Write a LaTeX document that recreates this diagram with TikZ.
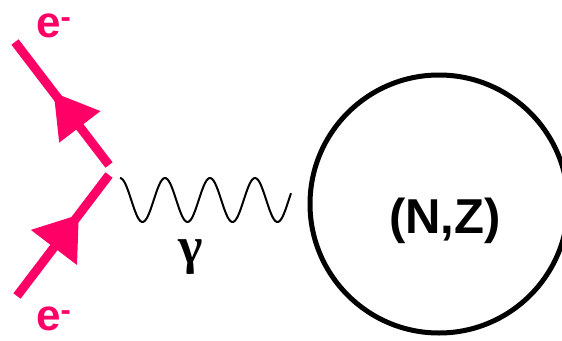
\documentclass[tikz,border=0pt]{standalone}
\usepackage{fontspec}
\setsansfont{Liberation Sans}
\newfontfamily\greekfont{Liberation Serif}
\usetikzlibrary{calc}
\definecolor{epink}{RGB}{255,0,102}

\begin{document}
\begin{tikzpicture}[x=1pt,y=-1pt,
  fermion/.style={epink,line width=9pt},
  elabel/.style={epink,font=\sffamily\bfseries\fontsize{44}{44}\selectfont,anchor=base west,inner sep=0pt}]
  \clip (0,0) rectangle (562,340);
  % Vertex end points
  \coordinate (vtop) at (109,165);
  \coordinate (vbot) at (109,175);
  \coordinate (eout) at (15,42);
  \coordinate (ein) at (17,296);
  % Electron lines
  \draw[fermion] (vtop) -- (eout);
  \draw[fermion] (ein) -- (vbot);
  % Arrow heads: tip, then middle of the base
  \coordinate (tipA) at ($(vtop)!91pt!(eout)$);
  \coordinate (baseA) at ($(tipA)!43pt!(vtop)$);
  \fill[epink] (tipA) -- ($(baseA)!26pt!90:(tipA)$) -- ($(baseA)!26pt!-90:(tipA)$) -- cycle;
  \coordinate (tipB) at ($(ein)!102pt!(vbot)$);
  \coordinate (baseB) at ($(tipB)!41pt!(ein)$);
  \fill[epink] (tipB) -- ($(baseB)!29pt!90:(tipB)$) -- ($(baseB)!29pt!-90:(tipB)$) -- cycle;
  % Electron labels
  \node[elabel] (etop) at (36,37) {e\textsuperscript{-}};
  \node[elabel] (ebot) at (36,330) {e\textsuperscript{-}};
  % Photon
  \draw[line width=2pt] plot[domain=0:171,samples=120,smooth] (\x+120,{200-22*cos(\x/45*360)});
  \node[anchor=base,inner sep=0pt,font=\greekfont\bfseries\fontsize{52}{52}\selectfont] (gam) at (191,263) {γ};
  % Nucleus
  \node[draw,circle,line width=5pt,minimum size=258pt,inner sep=0pt] (nuc) at (439,204) {};
  \node[font=\sffamily\bfseries\fontsize{49}{49}\selectfont,inner sep=0pt] (nz) at (445,221) {(N,Z)};
\end{tikzpicture}
\end{document}
